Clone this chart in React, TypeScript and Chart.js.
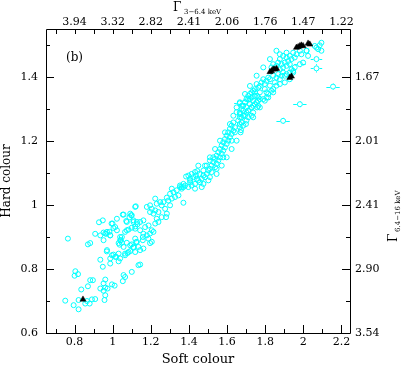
import React, { useEffect, useRef } from 'react';
import { Chart, registerables } from 'chart.js';

Chart.register(...registerables);

type P = [number, number];

// ---- axis tick values and labels ----
const softTickValues = [0.8, 1, 1.2, 1.4, 1.6, 1.8, 2, 2.2];
const gammaSoftLabels = ['3.94', '3.32', '2.82', '2.41', '2.06', '1.76', '1.47', '1.22'];
const hardTickValues = [0.6, 0.8, 1, 1.2, 1.4];
const gammaHardLabels = ['3.54', '2.90', '2.41', '2.01', '1.67'];

// ---- data (soft colour, hard colour) ----
const lowCloud: P[] = [
  [1.118, 0.994], [1.097, 0.968], [1.088, 0.962], [1.053, 0.970], [1.022, 0.957], [0.948, 0.952], [0.928, 0.946],
  [0.999, 0.942], [1.071, 0.950], [1.109, 0.947], [1.130, 0.940], [1.118, 0.933], [1.004, 0.928], [1.022, 0.921],
  [1.074, 0.921], [1.065, 0.916], [1.100, 0.929], [0.908, 0.910], [0.935, 0.905], [0.952, 0.914], [0.966, 0.910],
  [0.983, 0.916], [0.987, 0.905], [1.048, 0.900], [1.039, 0.890], [1.048, 0.882], [1.031, 0.881], [0.952, 0.890],
  [0.882, 0.881], [0.870, 0.877], [0.765, 0.895], [1.100, 0.877], [1.123, 0.884], [1.109, 0.867], [1.092, 0.856],
  [1.078, 0.850], [1.118, 0.853], [0.969, 0.855], [1.065, 0.848], [1.004, 0.845], [0.987, 0.833], [1.018, 0.838],
  [1.039, 0.833], [1.031, 0.824], [0.987, 0.817], [0.935, 0.829], [0.948, 0.807], [1.100, 0.791], [1.135, 0.812],
  [0.804, 0.793], [0.800, 0.779], [0.818, 0.784], [0.882, 0.765], [0.896, 0.765], [0.961, 0.767], [0.952, 0.755],
  [0.961, 0.742], [0.973, 0.739], [1.057, 0.781], [1.065, 0.775], [1.053, 0.762], [0.996, 0.752], [1.010, 0.748],
  [0.935, 0.739], [0.952, 0.732], [0.961, 0.718], [0.957, 0.703], [0.835, 0.736], [0.870, 0.746], [0.751, 0.701],
  [0.821, 0.703], [0.865, 0.700], [0.879, 0.692], [0.891, 0.705], [0.908, 0.706], [0.795, 0.687], [0.821, 0.674],
  [0.856, 0.692],
];

const midCloud: P[] = [
  [1.449, 1.123], [1.432, 1.103], [1.444, 1.106], [1.414, 1.097], [1.397, 1.092], [1.385, 1.089], [1.406, 1.082],
  [1.423, 1.087], [1.437, 1.092], [1.371, 1.066], [1.353, 1.061], [1.362, 1.056], [1.336, 1.046], [1.310, 1.051],
  [1.319, 1.040], [1.301, 1.035], [1.327, 1.025], [1.310, 1.020], [1.292, 1.014], [1.284, 1.023], [1.345, 1.030],
  [1.371, 1.007], [1.223, 1.020], [1.231, 1.004], [1.249, 1.009], [1.266, 1.009], [1.257, 0.999], [1.121, 0.996],
  [1.179, 0.994], [1.196, 0.999], [1.205, 0.988], [1.223, 0.983], [1.240, 0.978], [1.214, 0.973], [1.196, 0.978],
  [1.275, 0.988], [1.284, 0.973], [1.301, 0.999], [1.092, 0.973], [1.100, 0.968], [1.057, 0.970], [1.280, 0.962],
  [1.257, 0.962], [1.231, 0.957], [1.240, 0.947], [1.223, 0.942], [1.161, 0.952], [1.144, 0.947], [1.127, 0.947],
  [1.109, 0.952], [1.074, 0.947], [1.083, 0.923], [1.118, 0.926], [1.144, 0.921], [1.170, 0.931], [1.188, 0.936],
  [1.205, 0.921], [1.196, 0.911], [1.179, 0.905], [1.214, 0.916], [1.158, 0.900], [1.158, 0.890], [0.994, 0.942],
  [1.013, 0.931], [0.970, 0.916], [0.961, 0.911], [0.987, 0.905], [1.039, 0.900], [1.043, 0.890], [1.036, 0.876],
  [1.057, 0.869], [1.074, 0.882], [1.092, 0.874], [1.118, 0.895], [1.127, 0.885], [1.109, 0.869], [1.135, 0.869],
  [1.144, 0.859], [1.161, 0.864], [1.196, 0.881], [0.970, 0.859], [0.996, 0.843], [1.013, 0.838], [1.031, 0.848],
  [1.065, 0.843], [1.083, 0.853], [1.161, 0.910], [1.187, 0.895], [1.205, 0.885], [1.144, 0.814],
];

const lowerBand: P[] = [
  [1.746, 1.352], [1.758, 1.341], [1.729, 1.336], [1.737, 1.326], [1.711, 1.331], [1.720, 1.315], [1.694, 1.321],
  [1.702, 1.305], [1.676, 1.310], [1.685, 1.295], [1.667, 1.284], [1.650, 1.290], [1.676, 1.274], [1.659, 1.264],
  [1.694, 1.279], [1.711, 1.295], [1.729, 1.305], [1.746, 1.315], [1.763, 1.326], [1.633, 1.258], [1.624, 1.248],
  [1.641, 1.243], [1.615, 1.238], [1.633, 1.232], [1.606, 1.227], [1.624, 1.222], [1.598, 1.217], [1.615, 1.212],
  [1.589, 1.206], [1.606, 1.201], [1.580, 1.196], [1.598, 1.191], [1.572, 1.186], [1.589, 1.180], [1.563, 1.175],
  [1.580, 1.170], [1.673, 1.234], [1.554, 1.165], [1.572, 1.160], [1.545, 1.154], [1.563, 1.149], [1.537, 1.144],
  [1.554, 1.139], [1.528, 1.134], [1.545, 1.129], [1.519, 1.123], [1.537, 1.118], [1.510, 1.113], [1.502, 1.108],
  [1.519, 1.103], [1.493, 1.097], [1.476, 1.092], [1.484, 1.087], [1.467, 1.082], [1.449, 1.077], [1.458, 1.071],
  [1.432, 1.066], [1.414, 1.061], [1.397, 1.056], [1.380, 1.061], [1.371, 1.056], [1.362, 1.051], [1.406, 1.077],
  [1.441, 1.082], [1.476, 1.108], [1.493, 1.123], [1.528, 1.149], [1.510, 1.139],
  [1.650, 1.305], [1.633, 1.279], [1.615, 1.253], [1.589, 1.227], [1.563, 1.201], [1.537, 1.175], [1.510, 1.149],
  [1.484, 1.123], [1.455, 1.097], [1.406, 1.071], [1.353, 1.056], [1.758, 1.305], [1.729, 1.279], [1.699, 1.253],
  [1.671, 1.227], [1.650, 1.201], [1.624, 1.175], [1.598, 1.149], [1.572, 1.123], [1.545, 1.097], [1.502, 1.077],
  [1.467, 1.056], [1.667, 1.253], [1.641, 1.227], [1.624, 1.201], [1.580, 1.149], [1.545, 1.113], [1.510, 1.087],
  [1.476, 1.066], [1.432, 1.051],
];

const upperBand: P[] = [
  [1.947, 1.476], [1.929, 1.466], [1.964, 1.471], [1.955, 1.461], [1.938, 1.456], [1.912, 1.461], [1.921, 1.450],
  [1.894, 1.466], [1.903, 1.445], [1.877, 1.456], [1.886, 1.440], [1.868, 1.445], [1.859, 1.435], [1.842, 1.440],
  [1.833, 1.430], [1.877, 1.424], [1.894, 1.430], [1.912, 1.435], [1.929, 1.440], [1.947, 1.419], [1.938, 1.424],
  [1.912, 1.409], [1.894, 1.414], [1.886, 1.404], [1.868, 1.409], [1.859, 1.398], [1.842, 1.404], [1.825, 1.393],
  [1.816, 1.398], [1.807, 1.388], [1.790, 1.393], [1.798, 1.378], [1.781, 1.383], [1.772, 1.372], [1.764, 1.367],
  [1.755, 1.378], [1.746, 1.362], [1.737, 1.357], [1.729, 1.352], [1.720, 1.347], [1.711, 1.341], [1.702, 1.331],
  [1.694, 1.321], [1.685, 1.310], [1.676, 1.300], [1.667, 1.289], [1.667, 1.274], [1.720, 1.331], [1.746, 1.341],
  [1.772, 1.352], [1.798, 1.362], [1.825, 1.373], [1.851, 1.383], [1.877, 1.393], [1.903, 1.404], [1.790, 1.331],
  [1.755, 1.321], [1.729, 1.305], [1.702, 1.289], [1.798, 1.326], [1.764, 1.336], [1.816, 1.347], [1.842, 1.362],
  [1.859, 1.373], [1.929, 1.393], [1.807, 1.352], [1.833, 1.357], [1.877, 1.378], [1.903, 1.383], [1.929, 1.414],
  [1.955, 1.430], [1.772, 1.331], [1.816, 1.336], [1.737, 1.310], [1.764, 1.310], [1.711, 1.295], [1.737, 1.289],
  [1.685, 1.279], [1.711, 1.274], [1.676, 1.258], [1.702, 1.264], [1.667, 1.243], [1.685, 1.248],
  [1.859, 1.482], [1.825, 1.456], [1.790, 1.430], [1.755, 1.404], [1.720, 1.372], [1.694, 1.347], [1.667, 1.321],
  [2.017, 1.482], [1.999, 1.445], [1.947, 1.414], [1.842, 1.352], [1.807, 1.336], [1.772, 1.305], [1.737, 1.274],
  [1.912, 1.476], [1.877, 1.471],
];

const topEnd: P[] = [
  [2.095, 1.507], [2.086, 1.499], [2.078, 1.487], [2.095, 1.482], [2.060, 1.497], [2.069, 1.492],
  [1.982, 1.482], [1.990, 1.471], [2.017, 1.482], [2.025, 1.466],
];

const errPoints: P[] = [
  [2.069, 1.456], [2.069, 1.427], [2.156, 1.370], [1.982, 1.315], [1.894, 1.263], [1.982, 1.440], [1.667, 1.318],
];
const errSoft = [0.03, 0.03, 0.035, 0.035, 0.035, 0.03, 0.03];
const errHard = [0.01, 0.013, 0.008, 0.008, 0.008, 0.01, 0.005];

const triangles: P[] = [
  [1.964, 1.492], [1.973, 1.494], [1.982, 1.497], [1.990, 1.499], [1.999, 1.497], [2.025, 1.505], [2.034, 1.502],
  [1.825, 1.416], [1.833, 1.419], [1.842, 1.424], [1.851, 1.424], [1.860, 1.426],
  [1.929, 1.398], [1.938, 1.402],
  [0.844, 0.705],
];

const FONT = '"DejaVu Serif", serif';
const CYAN = '#00ffff';

const toXY = (arr: P[]) => arr.map(([x, y]) => ({ x, y }));
const isMajor = (v: number) => Math.abs(v * 5 - Math.round(v * 5)) < 1e-6;
const labelAt = (v: number, values: number[], labels: string[]) => {
  const i = values.findIndex((t) => Math.abs(t - v) < 1e-6);
  return i >= 0 ? labels[i] : '';
};

const decorPlugin = {
  id: 'decor',
  afterDatasetsDraw(chart: any) {
    const ctx = chart.ctx as CanvasRenderingContext2D;
    const sx = chart.scales.x;
    const sy = chart.scales.y;
    // error bars
    ctx.save();
    ctx.strokeStyle = CYAN;
    ctx.lineWidth = 1;
    ctx.beginPath();
    errPoints.forEach(([x, y], i) => {
      const px = sx.getPixelForValue(x);
      const py = sy.getPixelForValue(y);
      const x0 = sx.getPixelForValue(x - errSoft[i]);
      const x1 = sx.getPixelForValue(x + errSoft[i]);
      const y0 = sy.getPixelForValue(y - errHard[i]);
      const y1 = sy.getPixelForValue(y + errHard[i]);
      ctx.moveTo(x0, Math.round(py) + 0.5);
      ctx.lineTo(px - 3, Math.round(py) + 0.5);
      ctx.moveTo(px + 3, Math.round(py) + 0.5);
      ctx.lineTo(x1, Math.round(py) + 0.5);
      ctx.moveTo(Math.round(px) + 0.5, y0);
      ctx.lineTo(Math.round(px) + 0.5, py + 3);
      ctx.moveTo(Math.round(px) + 0.5, py - 3);
      ctx.lineTo(Math.round(px) + 0.5, y1);
    });
    ctx.stroke();
    ctx.restore();
  },
  afterDraw(chart: any) {
    const ctx = chart.ctx as CanvasRenderingContext2D;
    const { left, right, top, bottom } = chart.chartArea;
    const sx = chart.scales.x;
    const sy = chart.scales.y;
    ctx.save();
    ctx.strokeStyle = '#000';
    ctx.lineWidth = 1;
    ctx.beginPath();
    ctx.rect(Math.round(left) + 0.5, Math.round(top) + 0.5, Math.round(right - left), Math.round(bottom - top));
    for (const t of sx.ticks) {
      const p = Math.round(sx.getPixelForValue(t.value)) + 0.5;
      const len = isMajor(t.value) ? 8 : 4;
      ctx.moveTo(p, bottom);
      ctx.lineTo(p, bottom - len);
      ctx.moveTo(p, top);
      ctx.lineTo(p, top + 5);
    }
    for (const t of sy.ticks) {
      const p = Math.round(sy.getPixelForValue(t.value)) + 0.5;
      const len = isMajor(t.value) ? 8 : 4;
      ctx.moveTo(left, p);
      ctx.lineTo(left + len, p);
      ctx.moveTo(right, p);
      ctx.lineTo(right - len, p);
    }
    ctx.stroke();

    ctx.fillStyle = '#000';
    // panel label
    ctx.font = `12px ${FONT}`;
    ctx.textAlign = 'left';
    ctx.textBaseline = 'middle';
    ctx.fillText('(b)', 66, 58);

    // top axis title: Γ_{3−6.4 keV}
    ctx.textBaseline = 'alphabetic';
    ctx.font = `12px ${FONT}`;
    ctx.fillText('Γ', 173, 11);
    ctx.font = `7px ${FONT}`;
    ctx.fillText('3−6.4 keV', 184, 14);

    // right axis title: Γ_{6.4−16 keV}
    ctx.save();
    ctx.translate(397, 242);
    ctx.rotate(-Math.PI / 2);
    ctx.font = `12px ${FONT}`;
    ctx.fillText('Γ', 0, 0);
    ctx.font = `7px ${FONT}`;
    ctx.fillText('6.4−16 keV', 10, 3);
    ctx.restore();
    ctx.restore();
  },
};

const tickFont = { family: FONT, size: 11 };

export default function App() {
  const ref = useRef<HTMLCanvasElement | null>(null);
  useEffect(() => {
    if (!ref.current) return;
    const cyanStyle = {
      pointStyle: 'circle',
      pointRadius: 2.5,
      borderColor: CYAN,
      backgroundColor: 'rgba(0,0,0,0)',
      borderWidth: 1,
      showLine: false,
    };
    const chart = new Chart(ref.current, {
      type: 'scatter',
      data: {
        datasets: [
          {
            label: 'triangles',
            data: toXY(triangles),
            pointStyle: 'triangle',
            pointRadius: 3.5,
            backgroundColor: '#000',
            borderColor: '#000',
            borderWidth: 0.5,
          } as any,
          { label: 'err', data: toXY(errPoints), ...cyanStyle } as any,
          { label: 'low', data: toXY(lowCloud), ...cyanStyle } as any,
          { label: 'mid', data: toXY(midCloud), ...cyanStyle } as any,
          { label: 'band1', data: toXY(lowerBand), ...cyanStyle } as any,
          { label: 'band2', data: toXY(upperBand), ...cyanStyle } as any,
          { label: 'top', data: toXY(topEnd), ...cyanStyle } as any,
        ],
      },
      options: {
        responsive: false,
        animation: false,
        events: [],
        layout: { padding: 0 },
        plugins: { legend: { display: false }, tooltip: { enabled: false }, title: { display: false } },
        scales: {
          x: {
            type: 'linear',
            position: 'bottom',
            min: 0.65,
            max: 2.245,
            afterFit: (s: any) => { s.height = 34; },
            grid: { display: false, drawTicks: false },
            border: { display: false },
            ticks: {
              stepSize: 0.1,
              includeBounds: false,
              autoSkip: false,
              maxRotation: 0,
              padding: 3,
              color: '#000',
              font: tickFont,
              callback: (v: any) => labelAt(Number(v), softTickValues, softTickValues.map(String)),
            },
            title: { display: true, text: 'Soft colour', color: '#000', font: { family: FONT, size: 13 }, padding: 0 },
          },
          x2: {
            type: 'linear',
            position: 'top',
            min: 0.65,
            max: 2.245,
            afterFit: (s: any) => { s.height = 29; },
            grid: { display: false, drawTicks: false },
            border: { display: false },
            ticks: {
              stepSize: 0.1,
              includeBounds: false,
              autoSkip: false,
              maxRotation: 0,
              padding: 0,
              color: '#000',
              font: tickFont,
              callback: (v: any) => labelAt(Number(v), softTickValues, gammaSoftLabels),
            },
          },
          y: {
            type: 'linear',
            position: 'left',
            min: 0.6,
            max: 1.55,
            afterFit: (s: any) => { s.width = 46; },
            grid: { display: false, drawTicks: false },
            border: { display: false },
            ticks: {
              stepSize: 0.1,
              includeBounds: false,
              autoSkip: false,
              padding: 8,
              color: '#000',
              font: tickFont,
              callback: (v: any) => labelAt(Number(v), hardTickValues, hardTickValues.map(String)),
            },
            title: { display: true, text: 'Hard colour', color: '#000', font: { family: FONT, size: 12 }, padding: 0 },
          },
          y2: {
            type: 'linear',
            position: 'right',
            min: 0.6,
            max: 1.55,
            afterFit: (s: any) => { s.width = 53; },
            grid: { display: false, drawTicks: false },
            border: { display: false },
            ticks: {
              stepSize: 0.1,
              includeBounds: false,
              autoSkip: false,
              padding: 5,
              color: '#000',
              font: tickFont,
              callback: (v: any) => labelAt(Number(v), hardTickValues, gammaHardLabels),
            },
          },
        },
      } as any,
      plugins: [decorPlugin],
    });
    return () => chart.destroy();
  }, []);

  return (
    <div style={{ position: 'fixed', left: 0, top: 0, width: 403, height: 367, background: '#fff' }}>
      <canvas ref={ref} width={403} height={367} style={{ display: 'block' }} />
    </div>
  );
}
